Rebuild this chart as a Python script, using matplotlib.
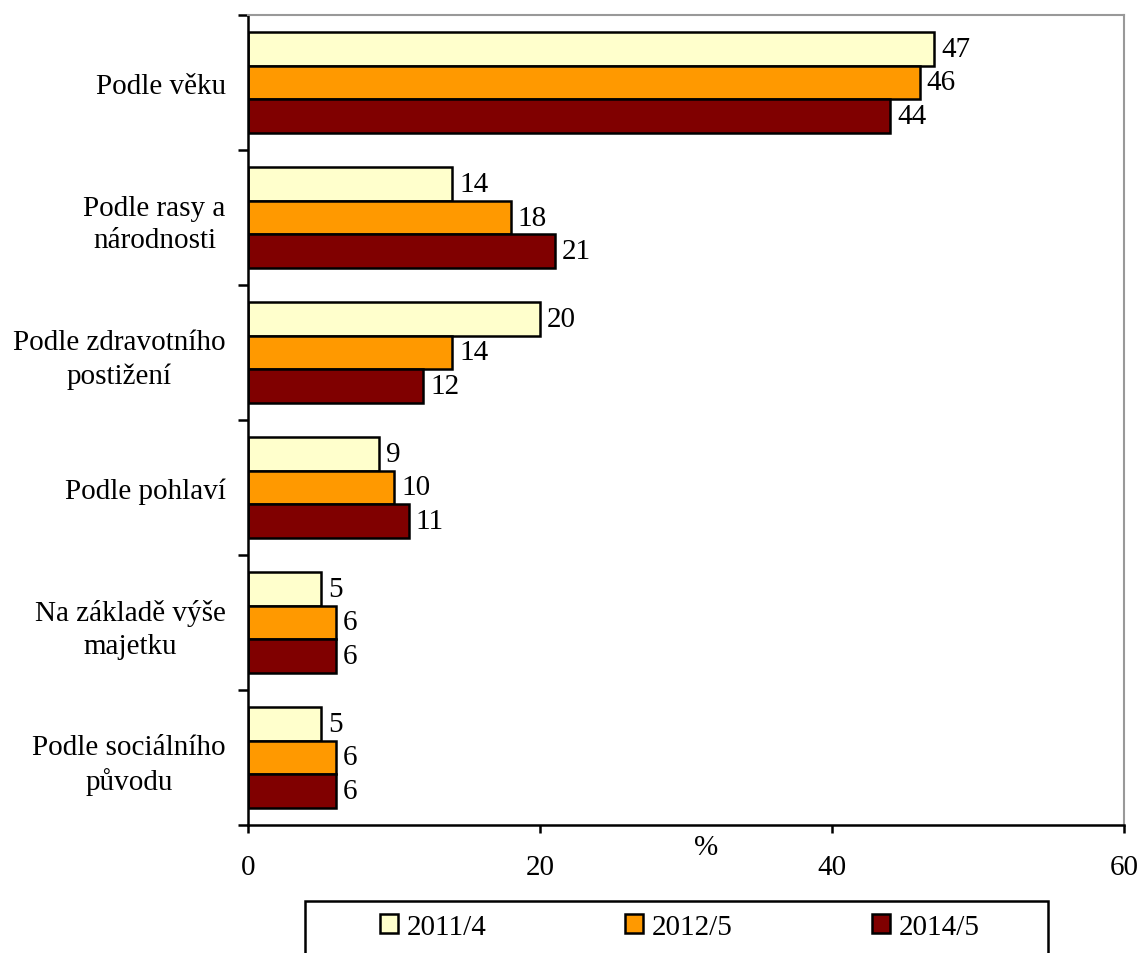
import matplotlib
matplotlib.use("Agg")
import matplotlib.pyplot as plt
import numpy as np
from matplotlib.patches import Rectangle

categories = ["Podle věku", "Podle rasy a\nnárodnosti", "Podle zdravotního\npostižení",
              "Podle pohlaví", "Na základě výše\nmajetku", "Podle sociálního\npůvodu"]
series_names = ["2011/4", "2012/5", "2014/5"]
v2011 = [47, 14, 20, 9, 5, 5]
v2012 = [46, 18, 14, 10, 6, 6]
v2014 = [44, 21, 12, 11, 6, 6]
colors = ["#FFFFCC", "#FF9900", "#800000"]
xticks = [0, 20, 40, 60]

plt.rcParams['font.family'] = ['Liberation Serif', 'DejaVu Serif']
FS = 21

W, H = 1141, 954
fig = plt.figure(figsize=(W/100, H/100), dpi=100)
ax = fig.add_axes([248/W, 1-826/H, (1124-248)/W, (826-16)/H])

y = np.arange(len(categories))
bh = 0.25
for k, (vals, col, name) in enumerate(zip([v2011, v2012, v2014], colors, series_names)):
    pos = y + (k-1)*bh
    ax.barh(pos, vals, height=bh, color=col, edgecolor='black', linewidth=1.8, label=name)
    for p, v in zip(pos, vals):
        ax.annotate(str(v), (v, p), xytext=(5, 0), textcoords='offset points',
                    va='center', ha='left', fontsize=FS)

ax.set_xlim(0, 60)
ax.set_ylim(len(categories)-0.5, -0.5)
ax.set_xticks(xticks)
ax.set_xticklabels([str(t) for t in xticks], fontsize=FS)
ax.tick_params(axis='x', direction='out', length=6, width=1.8, pad=15)
ax.set_yticks(y)
ax.set_yticklabels(categories, fontsize=FS, multialignment='center', linespacing=1.35)
ax.tick_params(axis='y', which='major', length=0, pad=16)
ax.set_yticks(np.arange(-0.5, len(categories)), minor=True)
ax.tick_params(axis='y', which='minor', direction='out', length=7, width=1.8)

for s in ['left', 'bottom']:
    ax.spines[s].set_linewidth(1.8)
    ax.spines[s].set_color('black')
for s in ['top', 'right']:
    ax.spines[s].set_linewidth(1.5)
    ax.spines[s].set_color('#999999')

ax.text(706/W, 1-848/H, "%", transform=fig.transFigure, ha='center', va='center', fontsize=FS)

# legend frame
rect = Rectangle((305/W, 1-965/H), (1048-305)/W, (965-902)/H, transform=fig.transFigure,
                 facecolor='white', edgecolor='black', linewidth=1.8, clip_on=False)
fig.add_artist(rect)
leg = fig.legend(loc='center left', bbox_to_anchor=(380/W, 1-928/H), ncol=3, frameon=False,
                 fontsize=FS, handlelength=0.62, handleheight=0.62, handletextpad=0.3,
                 columnspacing=4.75, borderpad=0, borderaxespad=0)
for h in leg.legend_handles:
    h.set_linewidth(1.8)

fig.savefig("out.png", dpi=100)
